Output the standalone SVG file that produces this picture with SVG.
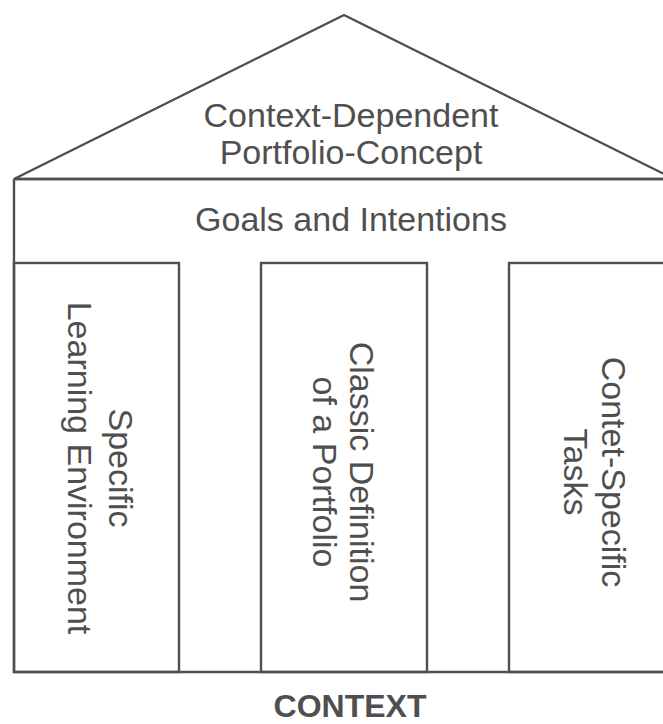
<svg xmlns="http://www.w3.org/2000/svg" width="663" height="724" viewBox="0 0 663 724">
  <style>
    .frame { fill: none; stroke: #4f4f4f; stroke-width: 2.4; stroke-linejoin: miter; }
    .lbl { font-family: "Liberation Sans", Arial, Helvetica, sans-serif; font-size: 34px; fill: #4f4f4f; text-anchor: middle; }
    .title { font-family: "Liberation Sans", Arial, Helvetica, sans-serif; font-size: 32px; font-weight: bold; fill: #4f4f4f; text-anchor: middle; }
  </style>
  <rect width="663" height="724" fill="#ffffff"/>

  <!-- roof -->
  <g id="roof">
    <polygon class="frame" points="14,179 344,15 674,179"/>
    <text class="lbl" x="351" y="127">Context-Dependent</text>
    <text class="lbl" x="351" y="164">Portfolio-Concept</text>
  </g>

  <!-- beam -->
  <g id="goals">
    <polyline class="frame" points="14,179 14,672 674,672"/>
    <line class="frame" x1="14" y1="179" x2="674" y2="179"/>
    <text class="lbl" x="351" y="231">Goals and Intentions</text>
  </g>

  <!-- pillars -->
  <g id="pillar-left">
    <rect class="frame" x="14" y="263" width="165" height="409"/>
    <g transform="translate(96,468) rotate(90)">
      <text class="lbl" x="0" y="-13">Specific</text>
      <text class="lbl" x="0" y="28">Learning Environment</text>
    </g>
  </g>

  <g id="pillar-middle">
    <rect class="frame" x="261" y="263" width="166" height="409"/>
    <g transform="translate(344,472) rotate(90)">
      <text class="lbl" x="0" y="-6">Classic Definition</text>
      <text class="lbl" x="0" y="31">of a Portfolio</text>
    </g>
  </g>

  <g id="pillar-right">
    <rect class="frame" x="509" y="263" width="166" height="409"/>
    <g transform="translate(592,472) rotate(90)">
      <text class="lbl" x="0" y="-10">Contet-Specific</text>
      <text class="lbl" x="0" y="28">Tasks</text>
    </g>
  </g>

  <g id="connectors"></g>

  <g id="context">
    <text class="title" x="350" y="717">CONTEXT</text>
  </g>
</svg>
